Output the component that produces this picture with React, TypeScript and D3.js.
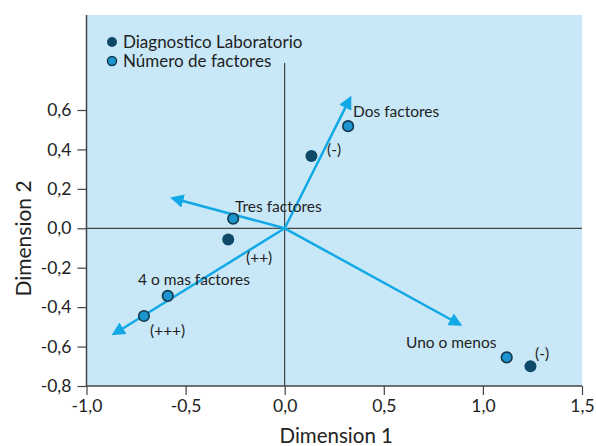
import React from "react";
import { select, scaleLinear, axisLeft, axisBottom } from "d3";

// Data
const xTicks = [-1.0, -0.5, 0.0, 0.5, 1.0, 1.5];
const yTicks = [-0.8, -0.6, -0.4, -0.2, 0.0, 0.2, 0.4, 0.6];

const diagLabels = ["(-)", "(++)", "(-)"];
const diagX = [0.135, -0.285, 1.24];
const diagY = [0.367, -0.057, -0.70];

const factorLabels = ["Dos factores", "Tres factores", "4 o mas factores", "", "Uno o menos"];
const factorX = [0.32, -0.26, -0.59, -0.71, 1.12];
const factorY = [0.518, 0.049, -0.343, -0.445, -0.655];

const arrowX = [0.33, -0.565, -0.862, 0.884];
const arrowY = [0.66, 0.152, -0.536, -0.488];

const legendNames = ["Diagnostico Laboratorio", "Número de factores"];

const W = 596;
const H = 446;
const FONT = "Lato, 'Open Sans', sans-serif";
const DARK = "#0e4a68";
const MID = "#1b95cf";
const ARROW = "#12a9e6";
const BG = "#c8e8f8";
const AXIS = "#444";

function Chart() {
  const svgRef = React.useRef(null);

  React.useEffect(() => {
    const svg = select(svgRef.current);
    svg.selectAll("*").remove();

    const xScale = scaleLinear().domain([-1.0, 1.5]).range([86.5, 582]);
    const yScale = scaleLinear().domain([-0.8, 0.6]).range([386, 110]);
    const top = 15;

    // background
    svg
      .append("rect")
      .attr("x", xScale(-1))
      .attr("y", top)
      .attr("width", xScale(1.5) - xScale(-1))
      .attr("height", yScale(-0.8) - top)
      .attr("fill", BG);

    // arrowhead marker
    svg
      .append("defs")
      .append("marker")
      .attr("id", "head")
      .attr("viewBox", "0 0 10 10")
      .attr("refX", 8)
      .attr("refY", 5)
      .attr("markerWidth", 5.4)
      .attr("markerHeight", 5.4)
      .attr("markerUnits", "strokeWidth")
      .attr("orient", "auto")
      .append("path")
      .attr("d", "M0,0 L10,5 L0,10 Z")
      .attr("fill", ARROW);

    // zero lines
    svg
      .append("line")
      .attr("x1", xScale(-1))
      .attr("x2", xScale(1.5))
      .attr("y1", yScale(0))
      .attr("y2", yScale(0))
      .attr("stroke", AXIS)
      .attr("stroke-width", 1.3);
    svg
      .append("line")
      .attr("x1", xScale(0))
      .attr("x2", xScale(0))
      .attr("y1", 63)
      .attr("y2", yScale(-0.8))
      .attr("stroke", "#222")
      .attr("stroke-width", 1);

    // axes
    const yAxis = axisLeft(yScale)
      .tickValues(yTicks)
      .tickSize(9)
      .tickPadding(6)
      .tickFormat((d) => Number(d).toFixed(1).replace(".", ","));
    const gy = svg
      .append("g")
      .attr("transform", `translate(${xScale(-1)},0)`)
      .call(yAxis);
    gy.select(".domain").remove();
    gy.append("line")
      .attr("x1", 0)
      .attr("x2", 0)
      .attr("y1", top)
      .attr("y2", yScale(-0.8))
      .attr("stroke", AXIS)
      .attr("stroke-width", 1.5);

    const xAxis = axisBottom(xScale)
      .tickValues(xTicks)
      .tickSize(9)
      .tickPadding(5)
      .tickFormat((d) => Number(d).toFixed(1).replace(".", ","));
    const gx = svg
      .append("g")
      .attr("transform", `translate(0,${yScale(-0.8)})`)
      .call(xAxis);
    gx.select(".domain").remove();
    gx.append("line")
      .attr("x1", xScale(-1))
      .attr("x2", xScale(1.5))
      .attr("y1", 0)
      .attr("y2", 0)
      .attr("stroke", AXIS)
      .attr("stroke-width", 1.5);

    [gx, gy].forEach((g) => {
      g.selectAll(".tick line").attr("stroke", AXIS).attr("stroke-width", 1.2);
      g.selectAll(".tick text")
        .attr("fill", "#222")
        .style("font-family", FONT)
        .style("font-size", "17.5px");
    });

    // arrows
    svg
      .selectAll(".arrow")
      .data(arrowX)
      .join("line")
      .attr("class", "arrow")
      .attr("x1", xScale(0))
      .attr("y1", yScale(0))
      .attr("x2", (d) => xScale(d))
      .attr("y2", (d, i) => yScale(arrowY[i]))
      .attr("stroke", ARROW)
      .attr("stroke-width", 2.5)
      .attr("marker-end", "url(#head)");

    // points
    svg
      .selectAll(".factor")
      .data(factorX)
      .join("circle")
      .attr("class", "factor")
      .attr("cx", (d) => xScale(d))
      .attr("cy", (d, i) => yScale(factorY[i]))
      .attr("r", 5.3)
      .attr("fill", MID)
      .attr("stroke", "#14384c")
      .attr("stroke-width", 1.6);
    svg
      .selectAll(".diag")
      .data(diagX)
      .join("circle")
      .attr("class", "diag")
      .attr("cx", (d) => xScale(d))
      .attr("cy", (d, i) => yScale(diagY[i]))
      .attr("r", 6)
      .attr("fill", DARK);

    const text = (x, y, s, size = 15.5, anchor = "start") =>
      svg
        .append("text")
        .attr("x", x)
        .attr("y", y)
        .attr("text-anchor", anchor)
        .attr("fill", "#222")
        .style("font-family", FONT)
        .style("font-size", `${size}px`)
        .text(s);

    // point labels
    text(353, 117, factorLabels[0]);
    text(235, 212, factorLabels[1]);
    text(138, 285, factorLabels[2]);
    text(406, 348, factorLabels[4]);
    text(327, 155, diagLabels[0]);
    text(246, 263, diagLabels[1]);
    text(150, 336, "(+++)");
    text(535, 359, diagLabels[2]);

    // legend
    legendNames.forEach((name, i) => {
      const cy = 42 + i * 19;
      svg
        .append("circle")
        .attr("cx", 112)
        .attr("cy", cy)
        .attr("r", i === 0 ? 5 : 4.5)
        .attr("fill", i === 0 ? DARK : MID)
        .attr("stroke", i === 0 ? "none" : "#14384c")
        .attr("stroke-width", 1.5);
      text(123, cy + 5.5, name, 17);
    });

    // axis titles
    text((xScale(-1) + xScale(1.5)) / 2 + 2, 443, "Dimension 1", 20.5, "middle");
    svg
      .append("text")
      .attr("transform", `translate(31,${(top + yScale(-0.8)) / 2 + 38}) rotate(-90)`)
      .attr("text-anchor", "middle")
      .attr("fill", "#222")
      .style("font-family", FONT)
      .style("font-size", "21px")
      .text("Dimension 2");
  }, []);

  return <svg ref={svgRef} width={W} height={H} style={{ display: "block" }} />;
}

export default function App() {
  return (
    <div style={{ position: "absolute", left: 0, top: 0, width: W, height: H, background: "#fff" }}>
      <Chart />
    </div>
  );
}
